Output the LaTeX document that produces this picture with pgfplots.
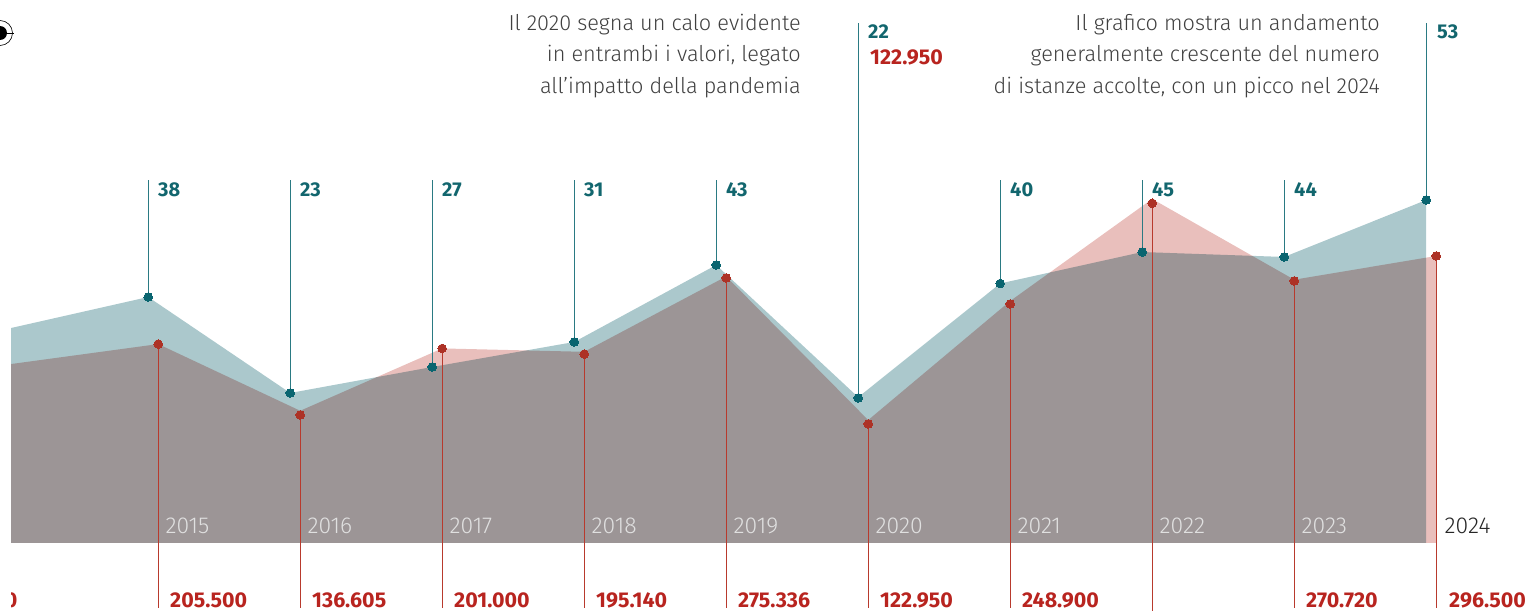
\documentclass[border=0pt]{standalone}
\usepackage{pgfplots}
\usepackage{pgfplotstable}
\pgfplotsset{compat=1.18}
\usepackage{fontspec}
\setmainfont{Fira Sans}
\newfontfamily\lightf{Fira Sans Light}
\newfontfamily\boldf{Fira Sans Bold}
\definecolor{tealA}{HTML}{ABC8CC}
\definecolor{redA}{HTML}{E9BFBC}
\definecolor{tealD}{HTML}{0A6570}
\definecolor{tealS}{HTML}{2A7A83}
\definecolor{tealT}{HTML}{12666E}
\definecolor{redD}{HTML}{AD3226}
\definecolor{redS}{HTML}{B83A2D}
\definecolor{redT}{HTML}{B8241F}
\definecolor{bodyT}{HTML}{404040}
\pgfplotstableread{
x y
2014.035 33.18
2015 37.96
2016 23.15
2017 27.16
2018 31.02
2019 42.9
2020 22.5
2021 40.05
2022 44.9
2023 44.14
2024 52.93
}\tealarea
\pgfplotstableread{
x y
2015 37.96
2016 23.15
2017 27.16
2018 31.02
2019 42.9
2020 22.38
2021 40.05
2022 44.9
2023 44.14
2024 52.93
}\tealmarks
\pgfplotstableread{
x y
2013.965 184900
2015 205500
2016 136605
2017 201000
2018 197500
2019 275336
2020 127000
2021 250000
2022 355400
2023 272000
2024 296500
}\redarea
\pgfplotstableread{
x y
2015 205500
2016 132300
2017 201000
2018 195140
2019 273800
2020 122950
2021 246900
2022 351000
2023 270720
2024 296500
}\redmarks
\pgfplotsset{base/.style={hide axis,scale only axis,width=1526bp,height=611bp,at={(0,0)},anchor=south west,clip=false},
 tealax/.style={base,xmin=2013.9563,xmax=2024.7028,ymin=-10.494,ymax=83.796},
 redax/.style={base,xmin=2013.8859,xmax=2024.6324,ymin=-70248,ymax=560950}}
\newcommand{\px}[2]{(#1bp,{(611-#2)*1bp})}
\begin{document}
\begin{tikzpicture}
\path[use as bounding box] (0,0) rectangle (1526bp,611bp);
\begin{axis}[tealax]
\addplot[fill=tealA,draw=none] table[x=x,y=y]{\tealarea} \closedcycle;
\end{axis}
\begin{axis}[redax]
\addplot[fill=redA,draw=none,blend mode=multiply] table[x=x,y=y]{\redarea} \closedcycle;
\addplot[redS,line width=1.15bp,unbounded coords=jump] coordinates {
(2015,205500)(2015,-67100)(2015,nan)
(2016,132300)(2016,-67100)(2016,nan)
(2017,201000)(2017,-67100)(2017,nan)
(2018,195140)(2018,-67100)(2018,nan)
(2019,273800)(2019,-67100)(2019,nan)
(2020,122950)(2020,-67100)(2020,nan)
(2021,246900)(2021,-67100)(2021,nan)
(2022,351000)(2022,-70248)(2022,nan)
(2023,270720)(2023,-67100)(2023,nan)
(2024,296500)(2024,-67100)
};
\addplot[only marks,mark=*,mark size=4.3bp,mark options={fill=redD,draw=redD,line width=0pt}] table[x=x,y=y]{\redmarks};
\end{axis}
\begin{axis}[tealax]
\addplot[tealS,line width=1.15bp,unbounded coords=jump] coordinates {
(2015,37.96)(2015,56)(2015,nan)
(2016,23.15)(2016,56)(2016,nan)
(2017,27.16)(2017,56)(2017,nan)
(2018,31.02)(2018,56)(2018,nan)
(2019,42.9)(2019,56)(2019,nan)
(2020,22.38)(2020,80.25)(2020,nan)
(2021,40.05)(2021,56)(2021,nan)
(2022,44.9)(2022,56)(2022,nan)
(2023,44.14)(2023,56)(2023,nan)
(2024,52.93)(2024,80.25)
};
\addplot[only marks,mark=*,mark size=4.3bp,mark options={fill=tealD,draw=tealD,line width=0pt}] table[x=x,y=y]{\tealmarks};
\end{axis}
% teal value labels
\foreach \x/\v in {158/38,300/23,442/27,584/31,726/43,1010/40,1152/45,1294/44}
  \node[anchor=west,inner sep=0pt,text=tealT,font=\boldf\fontsize{20bp}{20bp}\selectfont] at \px{\x}{190} {\v};
\node[anchor=west,inner sep=0pt,text=tealT,font=\boldf\fontsize{20bp}{20bp}\selectfont] at \px{868}{32} {22};
\node[anchor=west,inner sep=0pt,text=tealT,font=\boldf\fontsize{20bp}{20bp}\selectfont] at \px{1437}{32} {53};
% red value labels
\foreach \x/\v in {170/205.500,312/136.605,454/201.000,596/195.140,738/275.336,880/122.950,1022/248.900,1306/270.720,1449/296.500}
  \node[anchor=west,inner sep=0pt,text=redT,font=\boldf\fontsize{21.4bp}{21.4bp}\selectfont] at \px{\x}{600} {\v};
\node[anchor=west,inner sep=0pt,text=redT,font=\boldf\fontsize{21.4bp}{21.4bp}\selectfont] at \px{870}{57} {122.950};
\begin{scope}
\clip \px{11}{580} rectangle \px{30}{611};
\node[anchor=east,inner sep=0pt,text=redT,font=\boldf\fontsize{21.4bp}{21.4bp}\selectfont] at \px{17.5}{600} {0};
\end{scope}
% year labels
\foreach \x/\v in {165.5/2015,307.5/2016,449.5/2017,591.5/2018,733.5/2019,875.5/2020,1017.5/2021,1159.5/2022,1301.5/2023}
  \node[anchor=west,inner sep=0pt,text=white!88!black,font=\lightf\fontsize{23bp}{23bp}\selectfont] at \px{\x}{526} {\v};
\node[anchor=west,inner sep=0pt,text=black!85,font=\lightf\fontsize{23bp}{23bp}\selectfont] at \px{1444.5}{526} {2024};
% annotations
\foreach \y/\t in {24.5/{Il 2020 segna un calo evidente},56/{in entrambi i valori, legato},88/{all’impatto della pandemia}}
  \node[anchor=east,inner sep=0pt,text=bodyT,font=\lightf\fontsize{21.7bp}{21.7bp}\selectfont] at \px{801}{\y} {\t};
\foreach \y/\t in {24.5/{Il grafico mostra un andamento},56/{generalmente crescente del numero},88/{di istanze accolte, con un picco nel 2024}}
  \node[anchor=east,inner sep=0pt,text=bodyT,font=\lightf\fontsize{21.7bp}{21.7bp}\selectfont] at \px{1380}{\y} {\t};
% registration mark
\draw[black,line width=0.6bp] \px{0}{33} circle (12.5bp);
\draw[black,line width=0.6bp] \px{-12}{33} -- \px{14}{33};
\fill[black] \px{0}{33} circle (7bp);
\end{tikzpicture}
\end{document}
